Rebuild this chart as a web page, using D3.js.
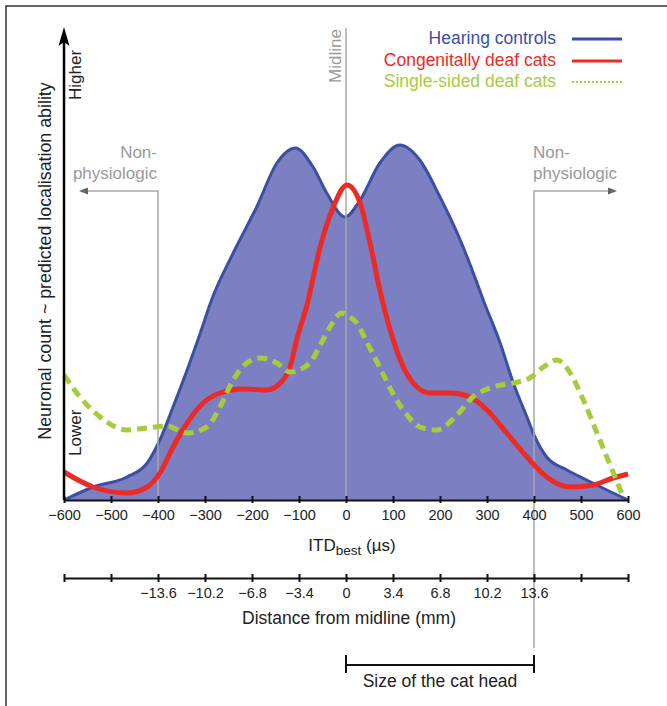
<!DOCTYPE html>
<html>
<head>
<meta charset="utf-8">
<script src="https://cdn.jsdelivr.net/npm/d3@7"></script>
<style>
  body { margin: 0; background: #fff; }
  svg text { font-family: "Liberation Sans", Arial, sans-serif; }
</style>
</head>
<body>
<div id="chart"></div>
<script>
// ITD (µs) vs relative neuronal count
var hearing = [[-600,0],[-538,13],[-466,23],[-423,37],[-396,60],[-368,93],[-338,130],[-310,167],
  [-286,200],[-240,247],[-190,293],[-147,337],[-108,352],[-70,333],[-41,307],[-2,283],[30,300],
  [72,337],[115,355],[157,340],[200,303],[243,260],[278,218],[292,200],[328,157],[356,117],
  [385,83],[402,63],[427,43],[470,30],[512,20],[555,10],[600,0]];
var congenital = [[-600,28],[-538,13],[-466,7],[-423,13],[-396,27],[-368,53],[-338,77],[-304,97],
  [-268,107],[-219,111],[-168,110],[-140,117],[-119,133],[-105,160],[-83,195],[-55,253],[-27,293],
  [2,315],[30,297],[51,257],[72,210],[94,170],[122,133],[151,113],[179,107],[221,107],[264,103],
  [300,90],[342,67],[385,43],[427,23],[477,13],[526,15],[568,22],[600,26]];
var singleSided = [[-600,125],[-566,103],[-523,83],[-466,70],[-423,72],[-381,74],[-338,67],
  [-296,73],[-268,93],[-240,120],[-211,137],[-183,142],[-147,137],[-119,128],[-77,137],[-55,155],
  [-34,173],[-9,187],[8,183],[23,177],[44,158],[66,138],[83,122],[104,103],[130,85],[157,73],
  [193,70],[236,85],[270,103],[313,113],[356,117],[391,122],[420,133],[449,140],[477,127],
  [505,100],[540,60],[569,27],[590,3]];

var itdTicks = d3.range(-600, 601, 100);
var mmTicks = [-400, -300, -200, -100, 0, 100, 200, 300, 400];
var mmLabels = ["\u221213.6", "\u221210.2", "\u22126.8", "\u22123.4", "0", "3.4", "6.8", "10.2", "13.6"];
var legendNames = ["Hearing controls", "Congenitally deaf cats", "Single-sided deaf cats"];

var blue = "#3b4fa3", blueFill = "#7c7fc1", red = "#ec2a26", green = "#a6cc3e", grey = "#a8a8a8";
var tickFont = '"DejaVu Sans", sans-serif';

var width = 667, height = 706;
var x = d3.scaleLinear().domain([-600, 600]).range([64, 628]);
var y = d3.scaleLinear().domain([0, 472]).range([500, 28]);

var svg = d3.select("#chart").append("svg")
    .attr("width", width)
    .attr("height", height);

// frame (top and left edges only)
svg.append("path")
    .attr("d", "M6,706V6H667")
    .attr("fill", "none")
    .attr("stroke", "#333")
    .attr("stroke-width", 1.5);

var line = d3.line()
    .x(function (d) { return x(d[0]); })
    .y(function (d) { return y(d[1]); })
    .curve(d3.curveMonotoneX);

var area = d3.area()
    .x(function (d) { return x(d[0]); })
    .y0(y(0))
    .y1(function (d) { return y(d[1]); })
    .curve(d3.curveMonotoneX);

svg.append("path")
    .datum(hearing)
    .attr("d", area)
    .attr("fill", blueFill);
svg.append("path")
    .datum(hearing)
    .attr("d", line)
    .attr("fill", "none")
    .attr("stroke", blue)
    .attr("stroke-width", 3);

// grey guide lines
svg.append("line")
    .attr("x1", x(0)).attr("x2", x(0))
    .attr("y1", 28).attr("y2", y(0))
    .attr("stroke", grey).attr("stroke-width", 1.5);
svg.append("text")
    .attr("transform", "translate(" + (x(0) - 5) + ",83) rotate(-90)")
    .attr("font-size", 17)
    .attr("fill", "#999")
    .text("Midline");

var arrowY = 191;
svg.append("path")
    .attr("d", "M" + x(-400) + "," + y(0) + "V" + arrowY + "H86")
    .attr("fill", "none").attr("stroke", grey).attr("stroke-width", 1.5);
svg.append("path")
    .attr("d", "M79," + arrowY + "L88," + (arrowY - 3.5) + "L88," + (arrowY + 3.5) + "Z")
    .attr("fill", "#666");
svg.append("path")
    .attr("d", "M" + x(400) + ",648V" + arrowY + "H610")
    .attr("fill", "none").attr("stroke", grey).attr("stroke-width", 1.5);
svg.append("path")
    .attr("d", "M617," + arrowY + "L608," + (arrowY - 3.5) + "L608," + (arrowY + 3.5) + "Z")
    .attr("fill", "#666");

[[x(-400) - 1, "end"], [x(400) - 1, "start"]].forEach(function (p) {
    var t = svg.append("text")
        .attr("x", p[0])
        .attr("text-anchor", p[1])
        .attr("font-size", 17)
        .attr("fill", "#999");
    t.append("tspan").attr("x", p[0]).attr("y", 158).text("Non-");
    t.append("tspan").attr("x", p[0]).attr("y", 179).text("physiologic");
});

// other curves
svg.append("path")
    .datum(congenital)
    .attr("d", line)
    .attr("fill", "none")
    .attr("stroke", red)
    .attr("stroke-width", 5)
    .attr("stroke-linejoin", "round");
svg.append("path")
    .datum(singleSided)
    .attr("d", line)
    .attr("fill", "none")
    .attr("stroke", green)
    .attr("stroke-width", 5)
    .attr("stroke-dasharray", "10,6");

// ITD axis
var fmt = function (d) { return d < 0 ? "\u2212" + Math.abs(d) : d; };
var xAxis = svg.append("g")
    .attr("transform", "translate(0," + y(0) + ")")
    .call(d3.axisBottom(x).tickValues(itdTicks).tickFormat(fmt).tickSizeOuter(0));
xAxis.select(".domain").attr("stroke", "#111").attr("stroke-width", 2);
xAxis.selectAll(".tick line").attr("y1", -4).attr("y2", 3).attr("stroke", "#111").attr("stroke-width", 2);
xAxis.selectAll(".tick text")
    .attr("y", 20).attr("dy", 0)
    .attr("font-family", tickFont).attr("font-size", 14.5).attr("fill", "#222");

var itdLabel = svg.append("text")
    .attr("x", 352).attr("y", 551)
    .attr("text-anchor", "middle")
    .attr("font-size", 17)
    .attr("fill", "#222");
itdLabel.append("tspan").text("ITD");
itdLabel.append("tspan").attr("dy", 4).attr("font-size", 13.5).text("best");
itdLabel.append("tspan").attr("dy", -4).text(" (\u00b5s)");

// distance axis
var mmAxis = svg.append("g")
    .attr("transform", "translate(0,578)")
    .call(d3.axisBottom(x).tickValues(itdTicks).tickSizeOuter(0)
        .tickFormat(function (d) {
            var i = mmTicks.indexOf(d);
            return i < 0 ? "" : mmLabels[i];
        }));
mmAxis.select(".domain").attr("stroke", "#111").attr("stroke-width", 2);
mmAxis.selectAll(".tick line").attr("y1", -4).attr("y2", 4).attr("stroke", "#111").attr("stroke-width", 2);
mmAxis.selectAll(".tick text")
    .attr("y", 20).attr("dy", 0)
    .attr("font-family", tickFont).attr("font-size", 14.5).attr("fill", "#222");

svg.append("text")
    .attr("x", 349).attr("y", 624)
    .attr("text-anchor", "middle")
    .attr("font-size", 17.5)
    .attr("fill", "#222")
    .text("Distance from midline (mm)");

// size of the cat head
svg.append("path")
    .attr("d", "M" + x(0) + ",655V673M" + x(0) + ",665H" + x(400) + "M" + x(400) + ",655V673")
    .attr("fill", "none").attr("stroke", "#111").attr("stroke-width", 2);
svg.append("text")
    .attr("x", (x(0) + x(400)) / 2).attr("y", 687)
    .attr("text-anchor", "middle")
    .attr("font-size", 17.5)
    .attr("fill", "#222")
    .text("Size of the cat head");

// y axis with arrow
svg.append("line")
    .attr("x1", 64).attr("x2", 64)
    .attr("y1", y(0)).attr("y2", 40)
    .attr("stroke", "#000").attr("stroke-width", 2.5);
svg.append("path")
    .attr("d", "M64,27L69.5,46L64,42L58.5,46Z")
    .attr("fill", "#000");

svg.append("text")
    .attr("transform", "translate(51,261) rotate(-90)")
    .attr("text-anchor", "middle")
    .attr("font-size", 17.8)
    .attr("fill", "#222")
    .text("Neuronal count ~ predicted localisation ability");
svg.append("text")
    .attr("transform", "translate(81,100) rotate(-90)")
    .attr("font-size", 17)
    .attr("fill", "#222")
    .text("Higher");
svg.append("text")
    .attr("transform", "translate(81,456) rotate(-90)")
    .attr("font-size", 17)
    .attr("fill", "#222")
    .text("Lower");

// legend
var legendColors = [blue, red, green];
var legendY = [39, 61, 82];
var legend = svg.selectAll(".legend")
    .data(legendNames)
    .enter()
    .append("g")
    .attr("class", "legend");
legend.append("text")
    .attr("x", 556)
    .attr("y", function (d, i) { return legendY[i] + 5; })
    .attr("text-anchor", "end")
    .attr("font-size", 17.5)
    .attr("fill", function (d, i) { return legendColors[i]; })
    .text(function (d) { return d; });
legend.append("line")
    .attr("x1", 572).attr("x2", 622)
    .attr("y1", function (d, i) { return legendY[i]; })
    .attr("y2", function (d, i) { return legendY[i]; })
    .attr("stroke", function (d, i) { return legendColors[i]; })
    .attr("stroke-width", function (d, i) { return i < 2 ? 3 : 2; })
    .attr("stroke-dasharray", function (d, i) { return i < 2 ? null : "2,2"; });
</script>
</body>
</html>
